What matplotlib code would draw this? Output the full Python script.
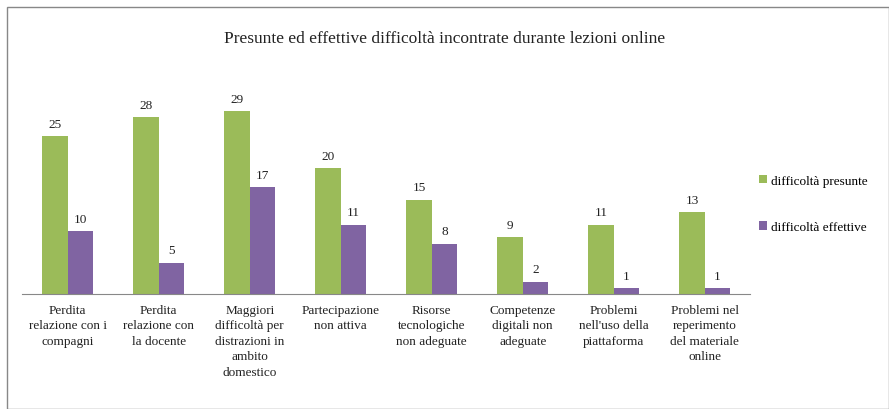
import matplotlib
matplotlib.use("Agg")
import numpy as np
import matplotlib.pyplot as plt
from matplotlib.patches import Rectangle

plt.rcParams["font.family"] = ["Liberation Serif", "DejaVu Serif"]

categories = [
    "Perdita\nrelazione con i\ncompagni",
    "Perdita\nrelazione con\nla docente",
    "Maggiori\ndifficoltà per\ndistrazioni in\nambito\ndomestico",
    "Partecipazione\nnon attiva",
    "Risorse\ntecnologiche\nnon adeguate",
    "Competenze\ndigitali non\nadeguate",
    "Problemi\nnell'uso della\npiattaforma",
    "Problemi nel\nreperimento\ndel materiale\nonline",
]
presunte = [25, 28, 29, 20, 15, 9, 11, 13]
effettive = [10, 5, 17, 11, 8, 2, 1, 1]

GREEN = "#9BBB59"
PURPLE = "#8064A2"

fig = plt.figure(figsize=(8.89, 4.10), dpi=100)
ax = fig.add_axes([0.025, 0.28, 0.819, 0.508])

x = np.arange(len(categories))
w = 0.28
b1 = ax.bar(x - w / 2, presunte, w, color=GREEN, label="difficoltà presunte")
b2 = ax.bar(x + w / 2, effettive, w, color=PURPLE, label="difficoltà effettive")
for bars in (b1, b2):
    for r in bars:
        ax.text(r.get_x() + r.get_width() / 2, r.get_height() + 1.0, f"{int(r.get_height())}",
                ha="center", va="bottom", fontsize=9.5, color="#222222")

ax.set_xlim(-0.5, len(categories) - 0.5)
ax.set_ylim(0, 33)
ax.set_yticks([])
ax.set_xticks(x)
ax.set_xticklabels(categories, fontsize=9.5, linespacing=1.38, color="#222222")
ax.tick_params(axis="x", length=0, pad=7)
for s in ["top", "right", "left"]:
    ax.spines[s].set_visible(False)
ax.spines["bottom"].set_color("#888888")

fig.text(0.5, 0.905, "Presunte ed effettive difficoltà incontrate durante lezioni online",
         ha="center", va="center", fontsize=12.5, color="#222222")

leg = fig.legend(handles=[b1, b2], loc="center left", bbox_to_anchor=(0.84, 0.5),
                 frameon=False, fontsize=9.5, handlelength=0.6, handleheight=0.6,
                 handletextpad=0.3, labelspacing=2.6)

fig.add_artist(Rectangle((0.008, 0.0), 0.992, 0.98, transform=fig.transFigure,
                         fill=False, edgecolor="#888888", linewidth=1.0))

fig.savefig("out.png", dpi=100, facecolor="white")
